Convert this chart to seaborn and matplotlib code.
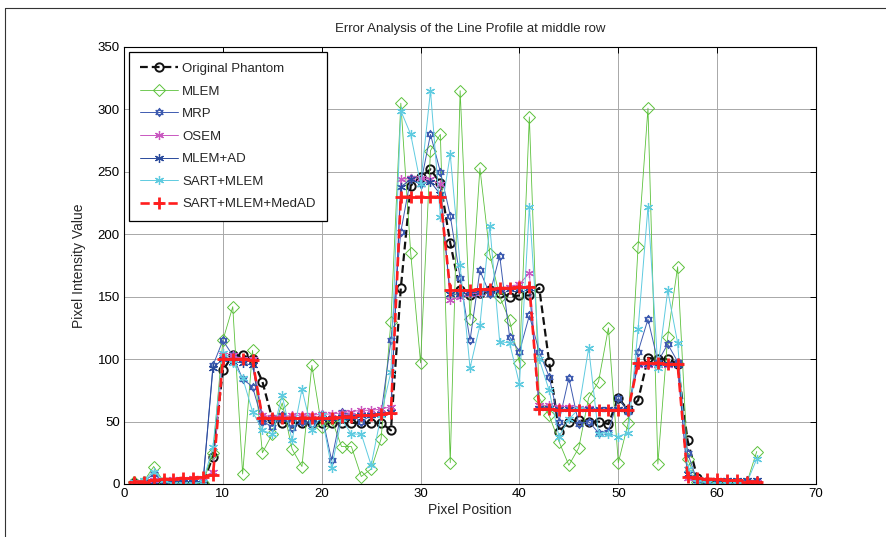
#!/usr/bin/env python3

import matplotlib
matplotlib.use("Agg")
import matplotlib.path as mpath
import matplotlib.pyplot as plt
from matplotlib.lines import Line2D
import numpy as np
import pandas as pd
import seaborn as sns


PIXELS = list(range(1, 65))

ORIGINAL = [1, 1, 1, 1, 1, 1, 1, 1, 22, 91, 103, 103, 100, 82, 52, 49,
            49, 49, 49, 49, 49, 49, 49, 49, 49, 49, 43, 157, 239, 246, 252, 241,
            193, 155, 151, 153, 155, 153, 150, 151, 151, 157, 98, 42, 50, 51, 50, 50,
            48, 69, 59, 67, 101, 100, 100, 96, 35, 5, 2, 1, 1, 1, 1, 1]
MLEM = [2, 2, 14, 2, 0, 0, 0, 1, 25, 115, 142, 8, 107, 25, 40, 65,
        28, 14, 95, 46, 52, 30, 30, 6, 12, 36, 130, 305, 185, 97, 267, 280,
        17, 315, 132, 253, 184, 150, 131, 97, 294, 69, 55, 34, 15, 29, 69, 82,
        125, 17, 49, 190, 301, 16, 118, 174, 20, 2, 1, 0, 0, 0, 1, 26]
MRP = [2, 2, 8, 2, 0, 0, 0, 2, 95, 115, 103, 84, 78, 50, 46, 55,
       45, 50, 48, 56, 19, 58, 55, 50, 55, 56, 115, 202, 245, 240, 280, 250,
       215, 165, 115, 171, 152, 183, 118, 106, 135, 106, 86, 50, 85, 48, 50, 41,
       42, 69, 58, 106, 132, 98, 112, 98, 25, 2, 0, 0, 0, 0, 0, 0]
OSEM = [2, 2, 3, 3, 4, 4, 5, 5, 10, 103, 103, 100, 100, 55, 54, 54,
        55, 55, 55, 56, 56, 57, 58, 59, 59, 60, 62, 244, 245, 245, 244, 240,
        147, 150, 152, 153, 155, 156, 158, 160, 169, 63, 63, 62, 62, 61, 61, 60,
        60, 60, 60, 95, 95, 95, 95, 95, 5, 4, 3, 3, 3, 2, 2, 2]
MLEM_AD = [2, 2, 2, 2, 2, 2, 2, 2, 93, 100, 98, 97, 95, 52, 52, 52,
           52, 52, 52, 53, 53, 54, 54, 55, 55, 56, 58, 238, 244, 240, 242, 232,
           152, 152, 153, 154, 155, 155, 156, 156, 157, 61, 61, 60, 60, 60, 60, 60,
           60, 60, 60, 96, 96, 96, 96, 95, 8, 3, 3, 3, 3, 3, 3, 3]
SART_MLEM = [2, 3, 10, 3, 0, 0, 0, 2, 30, 105, 97, 85, 58, 43, 40, 71,
             35, 76, 43, 55, 13, 52, 40, 40, 15, 55, 90, 299, 280, 240, 315, 214,
             264, 175, 93, 127, 207, 114, 113, 80, 222, 100, 75, 38, 52, 60, 109, 40,
             40, 38, 41, 124, 222, 93, 155, 113, 12, 2, 1, 0, 0, 0, 1, 20]
MEDAD = [2, 2, 3, 4, 4, 5, 5, 6, 7, 100, 100, 100, 99, 53, 53, 53,
         53, 53, 53, 53, 53, 54, 54, 55, 55, 56, 57, 230, 230, 230, 230, 230,
         155, 155, 155, 156, 156, 157, 157, 158, 158, 60, 60, 59, 59, 59, 59, 59,
         59, 59, 59, 97, 97, 97, 96, 96, 6, 5, 4, 4, 3, 3, 2, 2]

X_TICKS = [0, 10, 20, 30, 40, 50, 60, 70]
Y_TICKS = [0, 50, 100, 150, 200, 250, 300, 350]

_up = mpath.Path.unit_regular_polygon(3)
HEXAGRAM = mpath.Path.make_compound_path(_up, mpath.Path(-_up.vertices, _up.codes))
ASTERISK = (6, 2, 0)

SERIES = [
    ("Original Phantom", ORIGINAL, "#111111", "o", (0, (3.5, 1.8)), 1.6, 6.0, 1.4),
    ("MLEM", MLEM, "#5CC13C", "D", "-", 0.6, 6.0, 0.7),
    ("MRP", MRP, "#3E5BB0", HEXAGRAM, "-", 0.7, 6.0, 0.8),
    ("OSEM", OSEM, "#C957C0", ASTERISK, "-", 0.7, 6.5, 0.9),
    ("MLEM+AD", MLEM_AD, "#2A4A9C", ASTERISK, "-", 0.7, 6.5, 0.9),
    ("SART+MLEM", SART_MLEM, "#5FCBE0", ASTERISK, "-", 0.7, 6.5, 0.9),
    ("SART+MLEM+MedAD", MEDAD, "#FF1E1E", "+", (0, (3.5, 1.8)), 1.9, 8.0, 2.0),
]


def apply_style() -> None:
    sns.set_style("white")
    plt.rcParams.update(
        {
            "font.family": ["Liberation Sans Narrow", "Liberation Sans", "DejaVu Sans"],
            "font.size": 9,
            "axes.linewidth": 0.8,
            "axes.edgecolor": "black",
            "xtick.direction": "in",
            "ytick.direction": "in",
            "xtick.top": True,
            "ytick.right": True,
            "xtick.color": "black",
            "ytick.color": "black",
            "xtick.labelsize": 9.5,
            "ytick.labelsize": 9.5,
        }
    )


def main() -> None:
    apply_style()
    fig = plt.figure(figsize=(8.87, 5.37), dpi=100)
    ax = fig.add_axes([0.1398, 0.0987, 0.92 - 0.1398, 0.9125 - 0.0987])

    for name, values, color, marker, ls, lw, ms, mew in SERIES:
        frame = pd.DataFrame({"x": PIXELS, "y": values})
        sns.lineplot(
            data=frame,
            x="x",
            y="y",
            ax=ax,
            color=color,
            linestyle=ls,
            linewidth=lw,
            marker=marker,
            markersize=ms,
            markeredgewidth=mew,
            markeredgecolor=color,
            markerfacecolor="none",
            errorbar=None,
            sort=False,
            label=name,
        )

    ax.set_xlim(0, 70)
    ax.set_ylim(0, 350)
    ax.set_xticks(X_TICKS)
    ax.set_yticks(Y_TICKS)
    ax.tick_params(length=4, width=0.7, pad=3)
    ax.grid(True, color="#A8A8A8", linewidth=0.7)
    ax.set_axisbelow(True)
    for side in ax.spines.values():
        side.set_visible(True)
        side.set_color("black")
    ax.set_xlabel("Pixel Position", fontsize=10, labelpad=2)
    ax.set_ylabel("Pixel Intensity Value", fontsize=10, labelpad=8)
    ax.set_title("Error Analysis of the Line Profile at middle row", fontsize=9.5, pad=11)

    legend = ax.legend(
        loc="upper left",
        frameon=True,
        fancybox=False,
        framealpha=1,
        edgecolor="black",
        fontsize=9.5,
        handlelength=2.9,
        handletextpad=0.3,
        labelspacing=0.78,
        borderaxespad=0.35,
        borderpad=0.85,
        numpoints=1,
    )
    legend.get_frame().set_linewidth(0.9)

    fig.add_artist(Line2D([5 / 887, 1], [1 - 8 / 537, 1 - 8 / 537], color="#333333", lw=0.8,
                          transform=fig.transFigure))
    fig.add_artist(Line2D([5 / 887, 5 / 887], [0, 1 - 8 / 537], color="#333333", lw=0.8,
                          transform=fig.transFigure))

    fig.savefig("out.png", dpi=100)
    plt.close(fig)


if __name__ == "__main__":
    main()
